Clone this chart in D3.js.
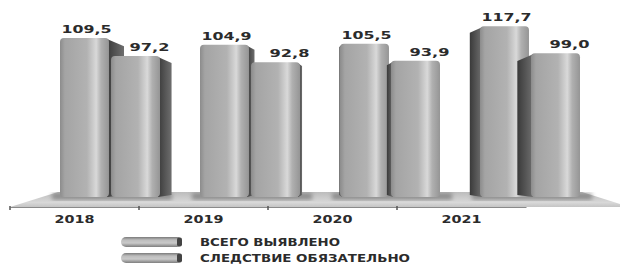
<!DOCTYPE html>
<html>
<head>
<meta charset="utf-8">
<script src="https://cdn.jsdelivr.net/npm/d3@7"></script>
<style>
	body { margin: 0; background: #fff; }
	text { font-family: "DejaVu Sans", sans-serif; font-weight: bold; fill: #2b2b2b; }
</style>
</head>
<body>
<div id="chart"></div>
<script>
(function () {

	'use strict';

	// data
	var years = ['2018', '2019', '2020', '2021'];
	var seriesNames = ['ВСЕГО ВЫЯВЛЕНО', 'СЛЕДСТВИЕ ОБЯЗАТЕЛЬНО'];
	var totalFound = [109.5, 104.9, 105.5, 117.7];
	var investigationRequired = [97.2, 92.8, 93.9, 99.0];
	var seriesValues = [totalFound, investigationRequired];

	var width = 620, height = 265;
	var floorFront = 207;
	var charW = 10; // the wide lettering of the original

	var fmt = d3.formatLocale({ decimal: ',', thousands: ' ', grouping: [3], currency: ['', ''] }).format('.1f');

	var svg = d3.select('#chart').append('svg')
		.attr('width', width)
		.attr('height', height);

	var defs = svg.append('defs');

	// front face gradient
	var gFront = defs.append('linearGradient').attr('id', 'front').attr('x1', 0).attr('x2', 1).attr('y1', 0).attr('y2', 0);
	[[0, '#8c8c8c'], [0.1, '#a4a4a4'], [0.55, '#b2b2b2'], [0.74, '#d9d9d9'], [0.84, '#b0b0b0'], [1, '#959595']]
		.forEach(function (s) { gFront.append('stop').attr('offset', s[0]).attr('stop-color', s[1]); });

	var gSide = defs.append('linearGradient').attr('id', 'side').attr('x1', 0).attr('x2', 1).attr('y1', 0).attr('y2', 0);
	gSide.append('stop').attr('offset', 0).attr('stop-color', '#3a3a3a');
	gSide.append('stop').attr('offset', 1).attr('stop-color', '#6e6e6e');

	var gFloor = defs.append('linearGradient').attr('id', 'floor').attr('x1', 0).attr('x2', 0).attr('y1', 0).attr('y2', 1);
	gFloor.append('stop').attr('offset', 0).attr('stop-color', '#bcbcbc');
	gFloor.append('stop').attr('offset', 0.7).attr('stop-color', '#d8d8d8');
	gFloor.append('stop').attr('offset', 1).attr('stop-color', '#c4c4c4');

	var gSwatch = defs.append('linearGradient').attr('id', 'swatch').attr('x1', 0).attr('x2', 0).attr('y1', 0).attr('y2', 1);
	[[0, '#7a7a7a'], [0.3, '#bdbdbd'], [0.6, '#c9c9c9'], [1, '#7e7e7e']]
		.forEach(function (s) { gSwatch.append('stop').attr('offset', s[0]).attr('stop-color', s[1]); });

	defs.append('filter').attr('id', 'blur')
		.append('feGaussianBlur').attr('stdDeviation', 2);

	// scales
	var xAxisScale = d3.scaleBand().domain(years).range([10, 526]);
	var xGroup = d3.scaleBand().domain(years).range([60, 620]);
	var xSeries = d3.scaleBand().domain([0, 1]).range([0, 100]).paddingInner(0.04);
	var y = d3.scaleLinear().domain([0, 120]).range([197, 22.8]);

	// perspective of the side faces
	var vanishX = 330, sideK = 0.068;

	function wide(sel, n) {
		sel.attr('textLength', n * charW)
			.attr('lengthAdjust', 'spacingAndGlyphs');
	}

	// floor
	svg.append('polygon')
		.attr('points', [[10, floorFront], [620, floorFront], [620, 204], [582, 192], [58, 192]].join(' '))
		.attr('fill', 'url(#floor)');

	// soft shadows under groups
	svg.selectAll('.shadow')
		.data(years)
		.enter().append('rect')
		.attr('class', 'shadow')
		.attr('x', function (d) { return xGroup(d) - 8; })
		.attr('y', 193)
		.attr('width', 120)
		.attr('height', 7)
		.attr('fill', '#555')
		.attr('opacity', 0.5)
		.attr('filter', 'url(#blur)');

	// axis
	var axis = svg.append('g')
		.attr('transform', 'translate(0,' + floorFront + ')')
		.call(d3.axisBottom(xAxisScale).tickSize(0).tickPadding(8));
	axis.select('.domain').attr('stroke', '#8a8a8a').attr('stroke-width', 1.2);
	axis.selectAll('text')
		.style('font-family', '"DejaVu Sans", sans-serif')
		.style('font-weight', 'bold')
		.style('font-size', '11px')
		.attr('fill', '#2b2b2b')
		.each(function (d) { wide(d3.select(this), d.length); });

	// tick marks on band boundaries
	svg.selectAll('.btick')
		.data(years)
		.enter().append('line')
		.attr('class', 'btick')
		.attr('x1', function (d) { return xAxisScale(d); })
		.attr('x2', function (d) { return xAxisScale(d); })
		.attr('y1', floorFront - 1)
		.attr('y2', floorFront + 3)
		.attr('stroke', '#555')
		.attr('stroke-width', 1.5);

	// bars
	var barW = xSeries.bandwidth();

	seriesValues.forEach(function (values, si) {
		var g = svg.append('g').attr('class', 'series-' + si);

		years.forEach(function (yr, i) {
			var v = values[i];
			var xl = xGroup(yr) + xSeries(si);
			var xr = xl + barW;
			var top = y(v), bottom = y(0);
			var sw, pts;

			if (xr < vanishX) {
				sw = sideK * (vanishX - xr);
				pts = [[xr - 2, top + 1], [xr + sw, top + 3 + sw * 0.35], [xr + sw, bottom - 2], [xr - 2, bottom]];
			} else if (xl > vanishX) {
				sw = sideK * (xl - vanishX);
				pts = [[xl + 2, top + 1], [xl - sw, top + 3 + sw * 0.35], [xl - sw, bottom - 2], [xl + 2, bottom]];
			}
			if (pts) {
				g.append('polygon')
					.attr('points', pts.join(' '))
					.attr('fill', 'url(#side)');
			}

			g.append('rect')
				.attr('x', xl)
				.attr('y', top)
				.attr('width', barW)
				.attr('height', bottom - top)
				.attr('rx', 4)
				.attr('fill', 'url(#front)');

			// value label
			var label = fmt(v);
			g.append('text')
				.attr('x', xl + barW / 2 + (si === 0 ? 2 : 14))
				.attr('y', top - 5)
				.attr('text-anchor', 'middle')
				.style('font-size', '11px')
				.text(label)
				.call(wide, label.length);
		});
	});

	// legend
	var legend = svg.append('g').attr('class', 'legend');
	seriesNames.forEach(function (name, i) {
		var ly = 237 + i * 16;
		legend.append('rect')
			.attr('x', 121).attr('y', ly)
			.attr('width', 61).attr('height', 10)
			.attr('rx', 5)
			.attr('fill', 'url(#swatch)');
		legend.append('rect')
			.attr('x', 177).attr('y', ly + 0.5)
			.attr('width', 5).attr('height', 9)
			.attr('rx', 2)
			.attr('fill', '#444');
		legend.append('text')
			.attr('x', 200)
			.attr('y', ly + 9)
			.style('font-size', '10px')
			.text(name)
			.call(wide, name.length);
	});

})();
</script>
</body>
</html>
